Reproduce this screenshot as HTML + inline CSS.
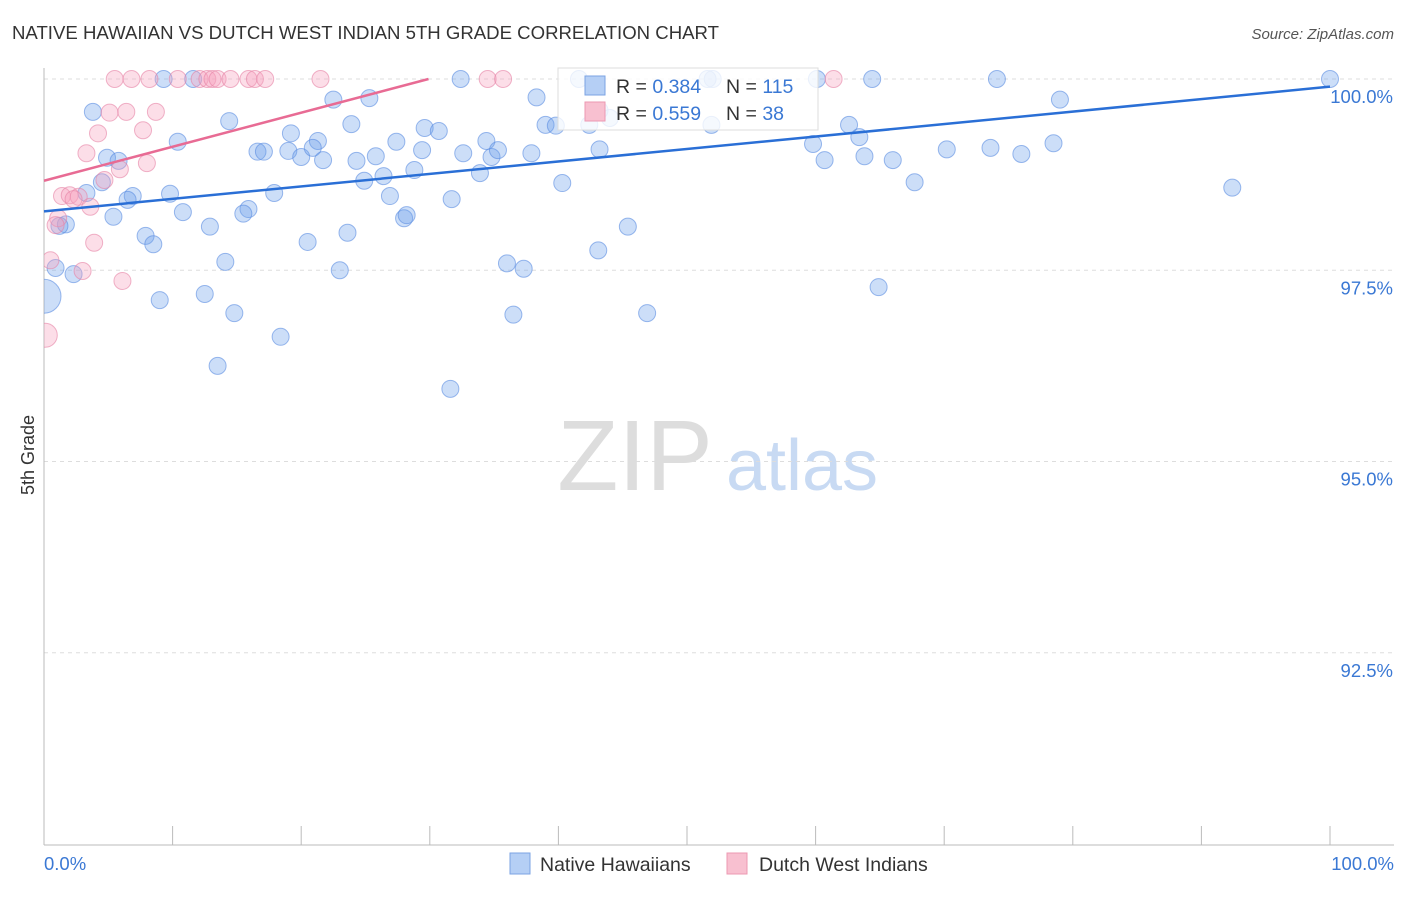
<!DOCTYPE html>
<html><head><meta charset="utf-8"><style>
body{margin:0;background:#fff;font-family:"Liberation Sans",sans-serif;}
svg text{font-family:"Liberation Sans",sans-serif;}
</style></head><body>
<svg width="1406" height="892" xmlns="http://www.w3.org/2000/svg" id="chart">
<defs><clipPath id="plotclip"><rect x="44" y="40" width="1362" height="805"/></clipPath></defs>
<text x="12" y="39" font-size="18.6" fill="#333">NATIVE HAWAIIAN VS DUTCH WEST INDIAN 5TH GRADE CORRELATION CHART</text>
<text x="1394" y="39" font-size="15" fill="#555" text-anchor="end" font-style="italic">Source: ZipAtlas.com</text>
<text x="34" y="455" font-size="18" fill="#333" text-anchor="middle" transform="rotate(-90 34 455)">5th Grade</text>
<g><text x="635" y="490" font-size="100" fill="#ddd" text-anchor="middle" font-family="Liberation Serif">ZIP</text><text x="802" y="490" font-size="72" fill="#c8daf3" text-anchor="middle">atlas</text></g>
<g id="grid"></g><g id="axes"></g><g id="pts" clip-path="url(#plotclip)"></g><g id="trend"></g>
<g>
<rect x="558" y="68" width="260" height="62" fill="#fff" fill-opacity="0.8" stroke="#ddd"/>
<rect x="585" y="76" width="20" height="19" fill="#b5cff5" stroke="#7ba3e3"/>
<rect x="585" y="102" width="20" height="19" fill="#f8c0d0" stroke="#ec98b2"/>
<text x="616" y="93" font-size="19.5" fill="#333">R = <tspan fill="#3a78d4">0.384</tspan></text>
<text x="726" y="93" font-size="19.5" fill="#333">N = <tspan fill="#3a78d4">115</tspan></text>
<text x="616" y="120" font-size="19.5" fill="#333">R = <tspan fill="#3a78d4">0.559</tspan></text>
<text x="726" y="120" font-size="19.5" fill="#333">N = <tspan fill="#3a78d4"> 38</tspan></text>
</g>
<g>
<rect x="510" y="853" width="20" height="21" fill="#b5cff5" stroke="#7ba3e3"/>
<text x="540" y="871" font-size="19.5" fill="#333">Native Hawaiians</text>
<rect x="727" y="853" width="20" height="21" fill="#f8c0d0" stroke="#ec98b2"/>
<text x="759" y="871" font-size="19.5" fill="#333">Dutch West Indians</text>
</g>
</svg>
<script>
const blueX=[9.3,11.6,32.4,41.6,52.0,60.1,64.4,74.1,100,3.8,22.5,25.3,79.0,38.3,14.4,23.9,10.4,19.2,21.3,29.6,30.7,27.4,34.4,39.0,39.8,42.4,62.6,59.8,63.4,78.5,4.9,5.8,16.6,17.1,19.0,20.0,20.9,21.7,24.3,25.8,29.4,32.6,34.8,35.3,37.9,43.2,60.7,63.8,66.0,70.2,73.6,76.0,4.5,3.3,6.9,9.8,6.5,17.9,24.9,26.4,28.8,33.9,40.3,67.7,92.4,26.9,31.7,15.9,15.5,10.8,5.4,1.7,1.2,12.9,28.0,28.2,45.4,7.9,8.5,20.5,23.6,43.1,0.9,2.3,14.1,23.0,36.0,37.3,64.9,9.0,12.5,0,14.8,36.5,46.9,18.4,13.5,31.6,51.6,43.2,44.0,51.9];
const blueY=[100,100,100,100,100,100,100,100,100,99.57,99.73,99.75,99.73,99.76,99.45,99.41,99.18,99.29,99.19,99.36,99.32,99.18,99.19,99.40,99.39,99.40,99.40,99.15,99.24,99.16,98.97,98.93,99.05,99.05,99.06,98.98,99.10,98.94,98.93,98.99,99.07,99.03,98.98,99.07,99.03,99.08,98.94,98.99,98.94,99.08,99.10,99.02,98.65,98.51,98.47,98.50,98.42,98.51,98.67,98.73,98.81,98.77,98.64,98.65,98.58,98.47,98.43,98.30,98.24,98.26,98.20,98.10,98.08,98.07,98.18,98.22,98.07,97.95,97.84,97.87,97.99,97.76,97.53,97.45,97.61,97.50,97.59,97.52,97.28,97.11,97.19,97.16,96.94,96.92,96.94,96.63,96.25,95.95,100,99.59,99.49,99.40];
const pinkX=[5.5,6.8,8.2,10.4,12.1,12.7,13.1,13.5,14.5,15.9,16.4,17.2,21.5,34.5,35.7,61.4,5.1,6.4,8.7,7.7,4.2,3.3,8.0,5.9,4.7,1.4,2.0,2.7,2.3,3.6,1.1,0.9,3.9,0.5,3.0,6.1,0.1];
const pinkY=[100,100,100,100,100,100,100,100,100,100,100,100,100,100,100,100,99.56,99.57,99.57,99.33,99.29,99.03,98.90,98.82,98.68,98.47,98.48,98.46,98.43,98.33,98.18,98.09,97.86,97.63,97.49,97.36,96.65];
const blueTrend=[[0,98.27],[100,99.90]];
const pinkTrend=[[0,98.67],[29.9,100]];
const yTicks=[100,97.5,95,92.5];
const yTickLabels=["100.0%","97.5%","95.0%","92.5%"];
const xEdgeLabels=["0.0%","100.0%"];
const NS="http://www.w3.org/2000/svg";
const sx=v=>44+v*12.86, sy=v=>79+(100-v)*76.5;
function mk(t,a,p){const e=document.createElementNS(NS,t);for(const k in a)e.setAttribute(k,a[k]);p.appendChild(e);return e;}
const grid=document.getElementById('grid'),axes=document.getElementById('axes'),pts=document.getElementById('pts'),tr=document.getElementById('trend');
yTicks.forEach((v,i)=>{
 const l=mk('line',{x1:44,x2:1394,y1:sy(v),y2:sy(v),stroke:'#ddd','stroke-dasharray':'4,4'},grid);
 
 
 const t=mk('text',{x:1393,y:sy(v)+24,'font-size':18.5,fill:'#3a78d4','text-anchor':'end'},axes);
 t.textContent=yTickLabels[i];
 
 
});
const ax=mk('line',{x1:44,x2:44,y1:68,y2:845,stroke:'#bbb'},axes);


const bx=mk('line',{x1:44,x2:1394,y1:845,y2:845,stroke:'#bbb'},axes);


for(let i=0;i<=10;i++){const tk=mk('line',{x1:sx(i*10),x2:sx(i*10),y1:826,y2:845,stroke:'#bbb'},axes);
 
 }
[[0,'start',44],[1,'end',1394]].forEach(([i,a,x])=>{const t=mk('text',{x:x,y:870,'font-size':18.5,fill:'#3a78d4','text-anchor':a},axes);t.textContent=xEdgeLabels[i];
 
 });
function dots(X,Y,fill,stroke,name,bigR){X.forEach((x,i)=>{const big=(x<0.2);const c=mk('circle',{cx:sx(x),cy:sy(Y[i]),r:big?bigR:8.5,fill:fill,stroke:stroke,'stroke-width':1},pts);
 
 });}
dots(blueX,blueY,'rgba(110,160,235,0.35)','rgba(90,140,225,0.6)','native-hawaiian-point',17);
dots(pinkX,pinkY,'rgba(245,160,190,0.35)','rgba(230,130,165,0.6)','dutch-west-indian-point',12);
const bl=mk('line',{x1:sx(blueTrend[0][0]),y1:sy(blueTrend[0][1]),x2:sx(blueTrend[1][0]),y2:sy(blueTrend[1][1]),stroke:'#2a6fd6','stroke-width':2.5},tr);


const pl=mk('line',{x1:sx(pinkTrend[0][0]),y1:sy(pinkTrend[0][1]),x2:sx(pinkTrend[1][0]),y2:sy(pinkTrend[1][1]),stroke:'#e86b94','stroke-width':2.5},tr);


</script>
</body></html>
